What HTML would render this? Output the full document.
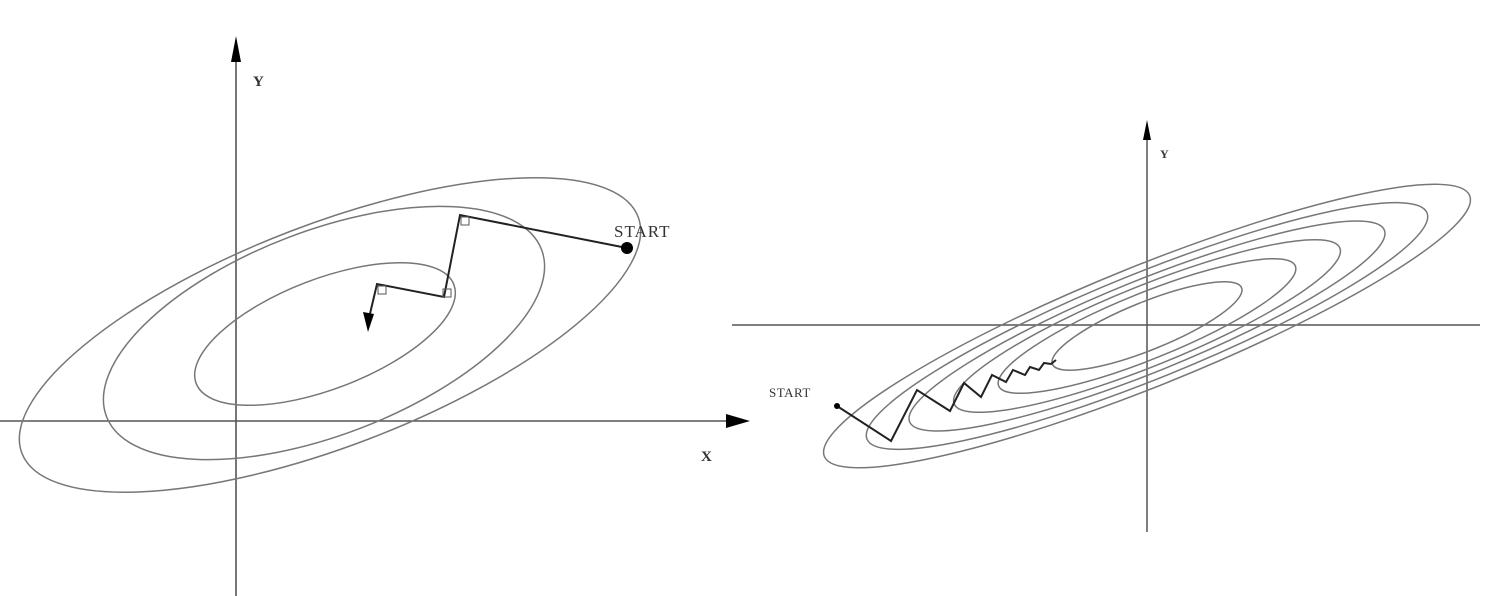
<!DOCTYPE html>
<html><head><meta charset="utf-8"><style>
html,body{margin:0;padding:0;background:#fff;}
svg{display:block;}
text{font-family:"Liberation Serif",serif;fill:#333;}
</style></head><body>
<svg width="1488" height="596" viewBox="0 0 1488 596">
<g id="left"></g>
<g id="right"></g>
</svg>
<script>
// Left panel contours: [cx, cy, a, b, angle]
const leftContours = [[330,335,330,111,-21],[324,333,233,102,-21],[325,334,138,55,-21]];
const leftPath = [[627,248],[460,215],[444,297],[377,284],[369,318]];
// Right panel contour semi-axes
const rightMajor = [348,302,256,208,160,102];
const rightMinor = [60,53,46,40,33,24];
const rightPath = [[837,406],[891,441],[917,390],[950,411],[964,383],[981,397],[992,375],[1006,382],[1013,370],[1025,375],[1030,367],[1039,370],[1044,363],[1051,364],[1056,360]];

const NS='http://www.w3.org/2000/svg';
function mk(parent,tag,attrs){const e=document.createElementNS(NS,tag);for(const k in attrs)e.setAttribute(k,attrs[k]);parent.appendChild(e);return e;}
const L=document.getElementById('left'), R=document.getElementById('right');

let e;
e=mk(L,'line',{x1:0,y1:421,x2:735,y2:421,stroke:'#555','stroke-width':1.6});


e=mk(L,'polygon',{points:'750,421 726,414 726,428',fill:'#000'});


e=mk(L,'line',{x1:236,y1:596,x2:236,y2:55,stroke:'#555','stroke-width':1.6});


e=mk(L,'polygon',{points:'236,36 231,62 241,62',fill:'#000'});


e=mk(L,'text',{x:253,y:86,'font-size':15,'font-weight':'bold'});e.textContent='Y';


e=mk(L,'text',{x:701,y:461,'font-size':15,'font-weight':'bold'});e.textContent='X';


leftContours.forEach(c=>{
  const el=mk(L,'ellipse',{cx:c[0],cy:c[1],rx:c[2],ry:c[3],transform:`rotate(${c[4]} ${c[0]} ${c[1]})`,fill:'none',stroke:'#777','stroke-width':1.5});
  
  
});
e=mk(L,'polyline',{points:leftPath.map(p=>p.join(',')).join(' '),fill:'none',stroke:'#222','stroke-width':2});


const lp=leftPath[leftPath.length-1];
e=mk(L,'polygon',{points:`${lp[0]-1},${lp[1]+14} ${lp[0]-6},${lp[1]-6} ${lp[0]+5},${lp[1]-4}`,fill:'#000'});


[[461,217],[443,289],[378,286]].forEach(q=>{
  const r=mk(L,'rect',{x:q[0],y:q[1],width:8,height:8,fill:'none',stroke:'#555','stroke-width':1});
  
  
});
e=mk(L,'circle',{cx:leftPath[0][0],cy:leftPath[0][1],r:6,fill:'#000'});


e=mk(L,'text',{x:614,y:237,'font-size':17,'letter-spacing':1});e.textContent='START';



e=mk(R,'line',{x1:732,y1:325,x2:1480,y2:325,stroke:'#555','stroke-width':1.5});


e=mk(R,'line',{x1:1147,y1:532,x2:1147,y2:135,stroke:'#555','stroke-width':1.5});


e=mk(R,'polygon',{points:'1147,120 1143,140 1151,140',fill:'#000'});


e=mk(R,'text',{x:1160,y:158,'font-size':12,'font-weight':'bold'});e.textContent='Y';


rightMajor.forEach((a,i)=>{
  const el=mk(R,'ellipse',{cx:1147,cy:326,rx:a,ry:rightMinor[i],transform:'rotate(-22 1147 326)',fill:'none',stroke:'#777','stroke-width':1.5});
  
  
});
e=mk(R,'polyline',{points:rightPath.map(p=>p.join(',')).join(' '),fill:'none',stroke:'#222','stroke-width':2});


e=mk(R,'circle',{cx:rightPath[0][0],cy:rightPath[0][1],r:3,fill:'#000'});


e=mk(R,'text',{x:769,y:397,'font-size':13,'letter-spacing':0.5});e.textContent='START';


</script>
</body></html>
